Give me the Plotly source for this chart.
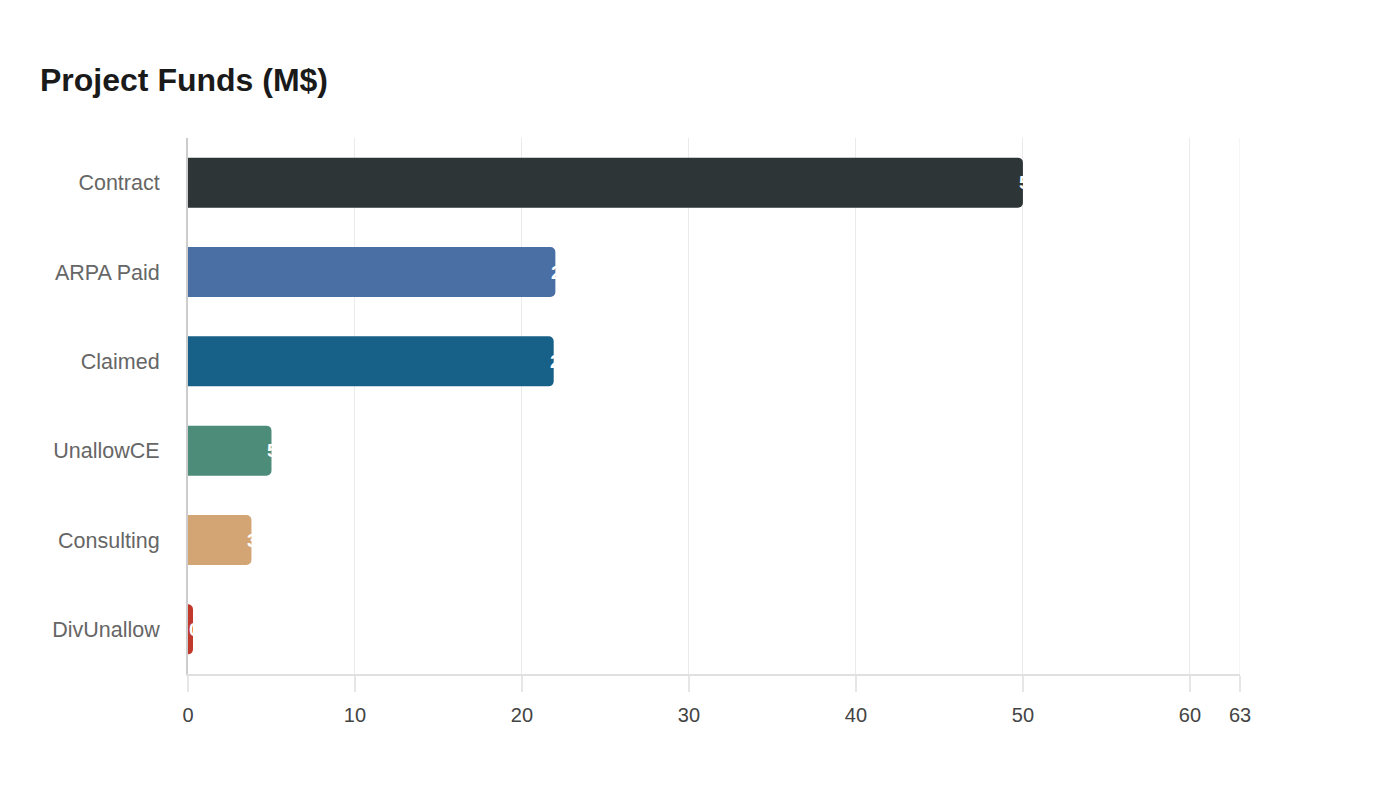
import plotly.graph_objects as go

# datos
categorias = ['Contract', 'ARPA Paid', 'Claimed', 'UnallowCE', 'Consulting', 'DivUnallow']
valores = [50.0, 22.0, 21.9, 5.0, 3.8, 0.3]
etiquetas = ['50.0', '22.0', '21.9', '5.0', '3.8', '0.3']
colores = ['#2d3537', '#4a6fa5', '#176087', '#4e8c7a', '#d4a574', '#c0392b']
ticks_x = [0, 10, 20, 30, 40, 50, 60, 63]

fig = go.Figure()
fig.add_trace(go.Bar(x=valores, y=categorias, orientation='h',
                     marker=dict(color=colores, cornerradius=5, line=dict(width=0)),
                     width=0.56, hoverinfo='x+y'))

# etiquetas blancas pegadas al final de cada barra (quedan casi tapadas)
anots = []
for cat, val, txt in zip(categorias, valores, etiquetas):
    anots.append(dict(x=val, y=cat, xref='x', yref='y', text='<b>' + txt + '</b>',
                      showarrow=False, xanchor='left', xshift=-6,
                      font=dict(color='white', size=19, family='Liberation Sans')))

# la linea de grilla del ultimo tick (63) plotly no la dibuja en el borde
grilla_fin = [dict(type='line', xref='x', yref='paper', x0=ticks_x[-1], x1=ticks_x[-1],
                   y0=0, y1=1, line=dict(color='#ebebeb', width=1), layer='below')]

# la pagina tiene 8px de margen en el body, se compensa en los margenes
fig.update_layout(
    width=1400, height=800,
    paper_bgcolor='white', plot_bgcolor='white',
    margin=dict(l=180, r=168, t=130, b=134),
    title=dict(text='<b>Project Funds (M$)</b>', x=32/1400, xanchor='left',
               y=1 - 72/800, yanchor='middle',
               font=dict(size=32, color='#1a1a1a', family='Liberation Sans')),
    font=dict(family='Liberation Sans'),
    showlegend=False, bargap=0.44,
    annotations=anots, shapes=grilla_fin,
)
fig.update_xaxes(range=[0, 63], tickvals=ticks_x, showgrid=True, gridcolor='#ebebeb', gridwidth=1,
                 zeroline=False, showline=True, linecolor='#e0e0e0', linewidth=2,
                 ticks='outside', ticklen=16, tickcolor='#e6e6e6', tickwidth=2,
                 tickfont=dict(size=20, color='#444444'), ticklabelstandoff=6)
fig.update_yaxes(autorange='reversed', showgrid=False, zeroline=False,
                 showline=True, linecolor='#cccccc', linewidth=2,
                 ticks='', tickfont=dict(size=21.5, color='#666666'), ticklabelstandoff=22)

fig.write_html("out.html")
